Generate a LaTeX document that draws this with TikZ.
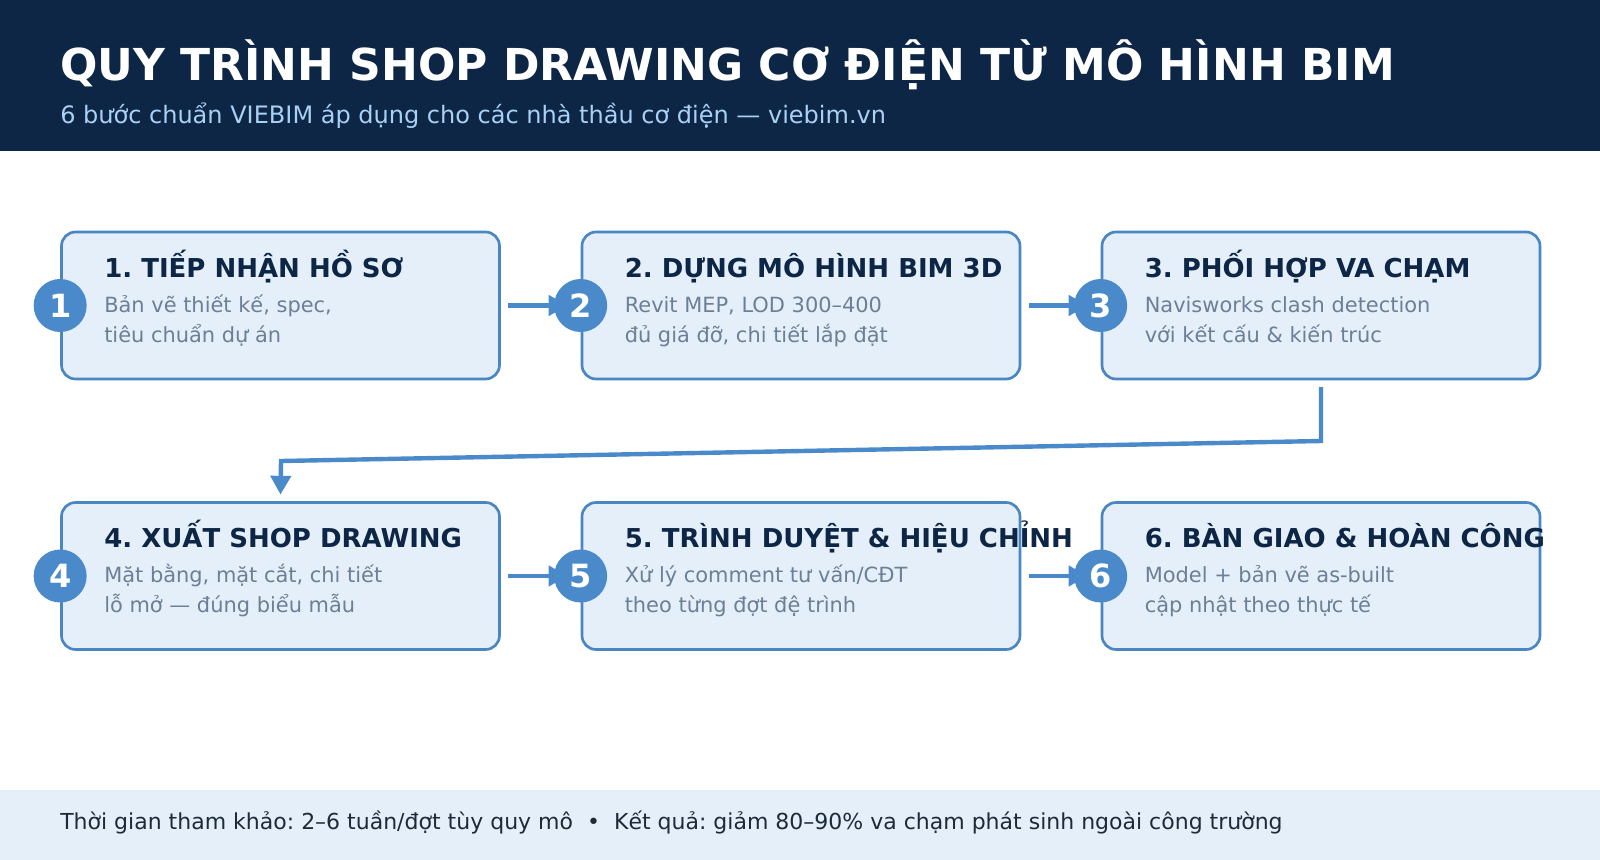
\documentclass[tikz,border=0pt]{standalone}
\usepackage{fontspec}
\setmainfont{DejaVu Sans}
\usetikzlibrary{arrows.meta}
\frenchspacing
\definecolor{marine}{HTML}{0D2645}
\definecolor{ciel}{HTML}{A9D0F5}
\definecolor{fond}{HTML}{E4EFFA}
\definecolor{bordure}{HTML}{4A86C1}
\definecolor{bleu}{HTML}{4A8ACB}
\definecolor{gris}{HTML}{6C7F96}
\definecolor{encre}{HTML}{1E2A38}
\tikzset{
  etape/.style={rectangle,rounded corners=10.5pt,draw=bordure,fill=fond,line width=2pt,minimum width=328.5pt,minimum height=110.25pt},
  pastille/.style={circle,fill=bleu,text=white,minimum size=39.75pt,inner sep=0pt,font=\bfseries\fontsize{24}{24}\selectfont},
  titreetape/.style={anchor=base west,inner sep=0pt,text=marine,font=\bfseries\fontsize{19.5}{20}\selectfont},
  texteetape/.style={anchor=base west,inner sep=0pt,text=gris,font=\fontsize{15.7}{16}\selectfont},
  fleche/.style={draw=bleu,line width=3.3pt,-{Triangle[length=14pt,width=15pt]}}
}
\begin{document}
\begin{tikzpicture}[x=0.75pt,y=-0.75pt]
\useasboundingbox (0,0) rectangle (1600,860);
\fill[marine] (0,0) rectangle (1600,151);
\fill[fond] (0,790) rectangle (1600,860);
\node[anchor=base west,inner sep=0pt,text=white,font=\bfseries\fontsize{33}{33}\selectfont] (titre) at (60,80) {QUY TRÌNH SHOP DRAWING CƠ ĐIỆN TỪ MÔ HÌNH BIM};
\node[anchor=base west,inner sep=0pt,text=ciel,font=\fontsize{18}{18}\selectfont] (soustitre) at (60,123) {6 bước chuẩn VIEBIM áp dụng cho các nhà thầu cơ điện — viebim.vn};

\foreach \n/\x/\y/\titre/\ligneA/\ligneB in {
  1/280.5/305.5/{1. TIẾP NHẬN HỒ SƠ}/{Bản vẽ thiết kế, spec,}/{tiêu chuẩn dự án},
  2/801/305.5/{2. DỰNG MÔ HÌNH BIM 3D}/{Revit MEP, LOD 300–400}/{đủ giá đỡ, chi tiết lắp đặt},
  3/1321/305.5/{3. PHỐI HỢP VA CHẠM}/{Navisworks clash detection}/{với kết cấu \& kiến trúc},
  4/280.5/576/{4. XUẤT SHOP DRAWING}/{Mặt bằng, mặt cắt, chi tiết}/{lỗ mở — đúng biểu mẫu},
  5/801/576/{5. TRÌNH DUYỆT \& HIỆU CHỈNH}/{Xử lý comment tư vấn/CĐT}/{theo từng đợt đệ trình},
  6/1321/576/{6. BÀN GIAO \& HOÀN CÔNG}/{Model + bản vẽ as-built}/{cập nhật theo thực tế}}
{
  \node[etape] (e\n) at (\x,\y) {};
  \node[titreetape] (t\n) at ({\x-176.5},{\y-28.5}) {\titre};
  \node[texteetape] (a\n) at ({\x-176.5},{\y+6.5}) {\ligneA};
  \node[texteetape] (b\n) at ({\x-176.5},{\y+36.5}) {\ligneB};
}

\draw[fleche] ([xshift=5.5pt]e1.east) -- ([xshift=-10pt]e2.west);
\draw[fleche] ([xshift=5.5pt]e2.east) -- ([xshift=-10pt]e3.west);
\draw[fleche] ([xshift=5.5pt]e4.east) -- ([xshift=-10pt]e5.west);
\draw[fleche] ([xshift=5.5pt]e5.east) -- ([xshift=-10pt]e6.west);
\coordinate (coude1) at (1321,441);
\coordinate (coude2) at (281,461);
\draw[fleche] ([yshift=-5pt]e3.south) -- (coude1) -- (coude2) -- ([yshift=5pt]e4.north);

\foreach \n in {1,...,6}
  \node[pastille] (p\n) at (e\n.west) {\n};

\node[anchor=base west,inner sep=0pt,text=encre,font=\fontsize{16.5}{16}\selectfont] (pied) at (60,829) {Thời gian tham khảo: 2–6 tuần/đợt tùy quy mô \ • \ Kết quả: giảm 80–90\% va chạm phát sinh ngoài công trường};
\end{tikzpicture}
\end{document}
